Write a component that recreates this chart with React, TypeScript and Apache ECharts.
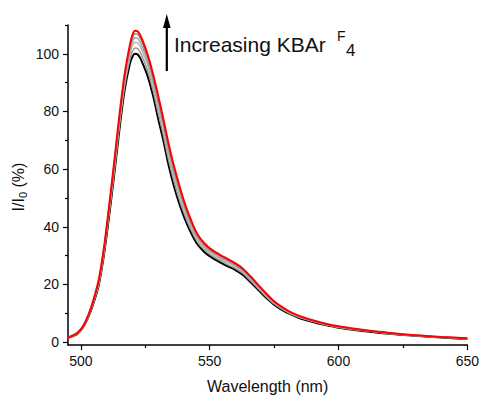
import React, { useEffect, useRef } from "react";
import * as echarts from "echarts";

const wavelengths = [495, 497, 499, 501, 503, 505, 507, 509, 511, 513, 515, 517, 519, 520, 521, 522, 523, 524, 526, 528, 530, 532, 534, 536, 538, 540, 542, 545, 548, 551, 554, 557, 560, 563, 566, 569, 572, 575, 578, 581, 585, 590, 595, 600, 610, 620, 630, 640, 650];

const black = [1.5, 2.1, 3.2, 5.3, 8.9, 13.8, 20, 30.5, 44, 58.5, 74, 87.5, 96.5, 99, 100, 99.8, 98.6, 96.6, 92, 85.5, 77.5, 70, 61.5, 54.5, 48.5, 43.5, 39.3, 34.2, 31.2, 29.2, 27.7, 26.3, 25, 23.2, 20.7, 18, 15.3, 13, 11.2, 9.8, 8.3, 7, 5.9, 5.0, 3.8, 2.9, 2.2, 1.6, 1.1];
const grey1 = [1.5, 2.2, 3.3, 5.4, 9.1, 14.1, 20.5, 31.1, 44.9, 59.6, 75.3, 88.9, 98.1, 100.9, 102, 101.8, 100.6, 98.6, 93.9, 87.4, 79.5, 71.9, 63.4, 56.3, 50.1, 44.9, 40.5, 35.1, 32, 29.9, 28.4, 26.9, 25.6, 23.8, 21.2, 18.4, 15.7, 13.3, 11.5, 10, 8.5, 7.2, 6, 5.1, 3.9, 3, 2.3, 1.7, 1.2];
const grey2 = [1.5, 2.2, 3.3, 5.5, 9.2, 14.4, 21, 31.8, 45.8, 60.8, 76.5, 90.3, 99.8, 102.8, 104, 103.8, 102.6, 100.6, 95.8, 89.3, 81.5, 73.8, 65.3, 58, 51.8, 46.3, 41.7, 36, 32.7, 30.6, 29, 27.6, 26.2, 24.3, 21.7, 18.9, 16.1, 13.6, 11.7, 10.2, 8.7, 7.3, 6.2, 5.3, 4, 3, 2.3, 1.7, 1.2];
const grey3 = [1.6, 2.2, 3.4, 5.6, 9.4, 14.6, 21.4, 32.3, 46.5, 61.7, 77.5, 91.4, 101.1, 104.3, 105.6, 105.4, 104.1, 102.1, 97.3, 90.8, 83.1, 75.3, 66.8, 59.4, 53.1, 47.4, 42.6, 36.7, 33.3, 31.1, 29.5, 28.1, 26.6, 24.7, 22.1, 19.2, 16.4, 13.8, 11.9, 10.4, 8.8, 7.4, 6.3, 5.4, 4.1, 3.1, 2.3, 1.7, 1.2];
const grey4 = [1.6, 2.3, 3.5, 5.7, 9.5, 14.8, 21.7, 32.7, 47, 62.4, 78.4, 92.3, 102.2, 105.5, 107, 106.8, 105.5, 103.5, 98.5, 92, 84.5, 76.5, 68, 60.6, 54.2, 48.3, 43.4, 37.3, 33.8, 31.5, 30, 28.5, 27, 25.1, 22.4, 19.5, 16.6, 14, 12.1, 10.5, 8.9, 7.5, 6.3, 5.4, 4.1, 3.2, 2.4, 1.8, 1.3];
const red = [1.6, 2.3, 3.5, 5.8, 9.6, 15, 22, 33, 47.5, 63, 79, 93, 103, 106.5, 108, 107.8, 106.5, 104.5, 99.5, 93, 85.5, 77.5, 69, 61.5, 55, 49, 44, 37.8, 34.2, 31.9, 30.3, 28.8, 27.3, 25.4, 22.7, 19.7, 16.8, 14.2, 12.2, 10.6, 9.0, 7.6, 6.4, 5.5, 4.2, 3.2, 2.4, 1.8, 1.3];

const xMajorTicks = [500, 550, 600, 650];
const xMinorTicks = [525, 575, 625];
const yMajorTicks = [0, 20, 40, 60, 80, 100];
const yMinorTicks = [10, 30, 50, 70, 90, 110];

const FONT = "Arial, 'Liberation Sans', sans-serif";

const curves = [
  { name: "black", data: black, color: "#000000", width: 2 },
  { name: "g1", data: grey1, color: "#9a9a9a", width: 1.5 },
  { name: "g2", data: grey2, color: "#b4b4b4", width: 1.5 },
  { name: "g3", data: grey3, color: "#a0a0a0", width: 1.5 },
  { name: "g4", data: grey4, color: "#8c8c8c", width: 1.5 },
  { name: "red", data: red, color: "#ff0000", width: 2 },
];

export default function App() {
  const ref = useRef<HTMLDivElement>(null);
  useEffect(() => {
    if (!ref.current) return;
    const chart = echarts.init(ref.current, undefined, { renderer: "svg" });
    const axisCommon = {
      min: 495,
      max: 650,
      type: "value" as const,
      splitLine: { show: false },
    };
    chart.setOption({
      animation: false,
      backgroundColor: "#ffffff",
      grid: { left: 68, right: 12, top: 25, bottom: 50 },
      xAxis: [
        {
          ...axisCommon,
          position: "bottom",
          axisLine: { show: true, onZero: false, lineStyle: { color: "#000", width: 1.5 } },
          axisTick: { show: true, inside: false, length: 5, customValues: xMajorTicks, lineStyle: { color: "#000", width: 1.2 } },
          axisLabel: { show: true, customValues: xMajorTicks, margin: 9, fontSize: 14, color: "#111", fontFamily: FONT },
          name: "Wavelength (nm)",
          nameLocation: "middle",
          nameGap: 33,
          nameTextStyle: { fontSize: 16, color: "#111", fontFamily: FONT },
        },
        {
          ...axisCommon,
          position: "bottom",
          axisLine: { show: false, onZero: false },
          axisTick: { show: true, inside: false, length: 3, customValues: xMinorTicks, lineStyle: { color: "#000", width: 1.2 } },
          axisLabel: { show: false },
        },
      ],
      yAxis: [
        {
          type: "value",
          min: -1,
          max: 110,
          position: "left",
          splitLine: { show: false },
          axisLine: { show: true, onZero: false, lineStyle: { color: "#000", width: 1.5 } },
          axisTick: { show: true, inside: false, length: 5, customValues: yMajorTicks, lineStyle: { color: "#000", width: 1.2 } },
          axisLabel: { show: true, customValues: yMajorTicks, margin: 9, fontSize: 14, color: "#111", fontFamily: FONT },
        },
        {
          type: "value",
          min: -1,
          max: 110,
          position: "left",
          splitLine: { show: false },
          axisLine: { show: false, onZero: false },
          axisTick: { show: true, inside: false, length: 3, customValues: yMinorTicks, lineStyle: { color: "#000", width: 1.2 } },
          axisLabel: { show: false },
        },
      ],
      series: curves.map((c) => ({
        type: "line",
        name: c.name,
        xAxisIndex: 0,
        yAxisIndex: 0,
        data: wavelengths.map((w, i) => [w, c.data[i]]),
        smooth: 0.3,
        showSymbol: false,
        symbol: "none",
        lineStyle: { color: c.color, width: c.width },
        silent: true,
      })),
      graphic: [
        {
          type: "text",
          x: 18,
          y: 187,
          rotation: Math.PI / 2,
          style: {
            text: "{a|I/I}{s|0}{a| (%)}",
            align: "center",
            verticalAlign: "middle",
            fill: "#111",
            rich: {
              a: { fontSize: 16, fontFamily: FONT, fill: "#111", lineHeight: 18 },
              s: { fontSize: 11, fontFamily: FONT, fill: "#111", lineHeight: 18, padding: [9, 0, 0, 0] },
            },
          },
        },
        {
          type: "line",
          shape: { x1: 166.8, y1: 71, x2: 166.8, y2: 26 },
          style: { stroke: "#000", lineWidth: 2.2 },
        },
        {
          type: "polygon",
          shape: { points: [[163, 28], [170.6, 28], [166.8, 14]] },
          style: { fill: "#000" },
        },
        {
          type: "text",
          x: 174,
          y: 44,
          style: {
            text: "Increasing KBAr",
            fontSize: 21,
            fontFamily: FONT,
            fill: "#111",
            align: "left",
            verticalAlign: "middle",
          },
        },
        {
          type: "text",
          x: 337,
          y: 36,
          style: {
            text: "F",
            fontSize: 14,
            fontFamily: FONT,
            fill: "#111",
            align: "left",
            verticalAlign: "middle",
          },
        },
        {
          type: "text",
          x: 346,
          y: 50,
          style: {
            text: "4",
            fontSize: 17,
            fontFamily: FONT,
            fill: "#111",
            align: "left",
            verticalAlign: "middle",
          },
        },
      ],
    });
    return () => chart.dispose();
  }, []);
  return <div ref={ref} style={{ width: 482, height: 399, position: "absolute", left: 0, top: 0 }} />;
}
